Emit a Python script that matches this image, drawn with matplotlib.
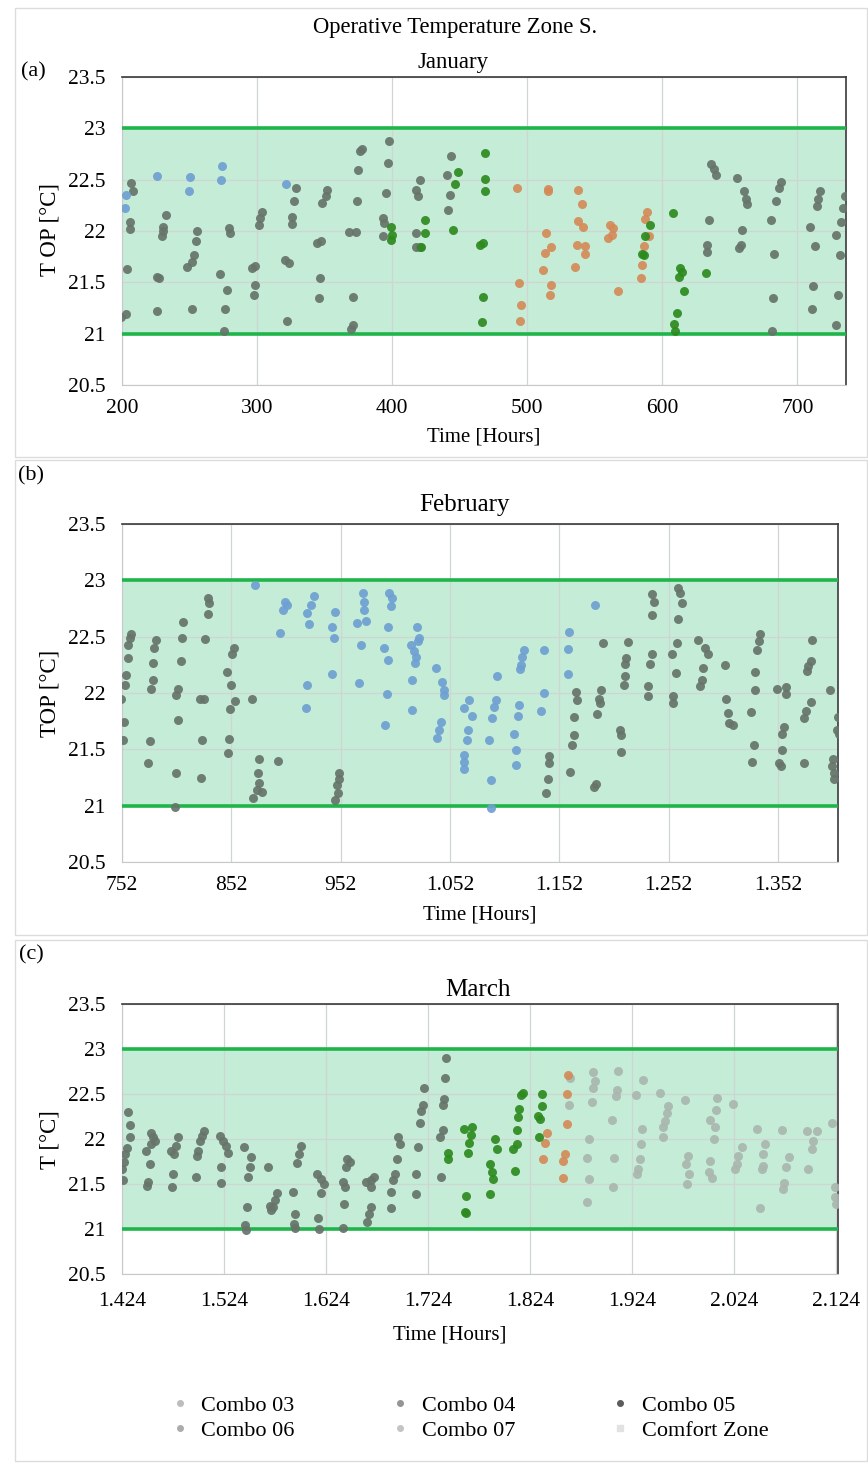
import numpy as np
import matplotlib
matplotlib.use('Agg')
import matplotlib.pyplot as plt
from matplotlib.lines import Line2D
from matplotlib.patches import Rectangle

plt.rcParams['font.family'] = ['Liberation Serif', 'DejaVu Serif']

# colours of the series
c_gray = '#66746a'
c_blue = '#6fa0d2'
c_green = '#2d8a1e'
c_orange = '#d48a58'
c_light = '#a9b7af'

# comfort zone limits
comfort_low = 21
comfort_high = 23

y_ticks = [20.5, 21, 21.5, 22, 22.5, 23, 23.5]
y_labels = ['20.5', '21', '21.5', '22', '22.5', '23', '23.5']

# ---------------- January ----------------
jan_ticks = [200, 300, 400, 500, 600, 700]
jan_labels = ['200', '300', '400', '500', '600', '700']

jan_gray_h = [199.5, 203.2, 204, 205.7, 205.7, 207, 208, 225.6, 227.3, 226, 232.3, 230.5, 229.3, 230,
              247.9, 251.6, 253.4, 254.6, 255.8, 251.6, 272.7, 277.7, 276.4, 275.7, 278.9, 280.1,
              296.3, 298.8, 298.8, 297.5, 301.2, 302.5, 303.7, 321, 323.6, 322.3, 328.5, 327.3, 326, 325.6,
              344.7, 347.1, 346.6, 345.9, 348.4, 350.9, 351.4, 368.2, 373.2, 370.7, 370.7, 369.5,
              373.7, 374.4, 376.2, 377.7, 393, 394.2, 393, 395.5, 396.7, 397.5, 417.9, 419.1, 420.8,
              417.9, 420.3, 417.9, 441.4, 442.7, 440.7, 443.9,
              635.7, 638.2, 639.5, 634.5, 633.3, 632.8, 655.6, 660.5, 663, 661.8, 659.2, 658, 656.8,
              684.1, 686.6, 687.8, 680.4, 682.9, 681.6, 680.9, 709.2, 712.9, 716.6, 714.2, 715.4,
              711.7, 710.5, 728.8, 731.3, 730, 728.8, 732.5, 733.8, 735]
jan_gray_t = [21.16, 21.19, 21.63, 22.09, 22.02, 22.47, 22.39, 21.55, 21.54, 21.22, 22.16, 22.04, 21.95, 22.0,
              21.65, 21.70, 21.77, 21.90, 22.00, 21.24, 21.58, 21.43, 21.24, 21.03, 22.03, 21.98,
              21.64, 21.66, 21.47, 21.38, 22.06, 22.13, 22.19, 21.72, 21.69, 21.12, 22.42, 22.29, 22.14, 22.07,
              21.88, 21.90, 21.54, 21.35, 22.27, 22.34, 22.40, 21.99, 21.99, 21.36, 21.08, 21.05,
              22.29, 22.59, 22.78, 22.80, 22.13, 22.08, 21.95, 22.37, 22.66, 22.88, 22.40, 22.34, 22.50,
              21.98, 21.84, 21.84, 22.20, 22.35, 22.55, 22.73,
              22.65, 22.60, 22.55, 22.11, 21.86, 21.80, 22.52, 22.39, 22.26, 22.31, 22.01, 21.86, 21.83,
              22.29, 22.42, 22.48, 22.11, 21.78, 21.35, 21.03, 22.04, 21.85, 22.39, 22.24, 22.31,
              21.46, 21.24, 21.96, 21.77, 21.38, 21.08, 22.09, 22.22, 22.34]

jan_blue_h = [225.6, 250.4, 249.6, 273.9, 273.4, 203.2, 202, 321.6]
jan_blue_t = [22.54, 22.53, 22.39, 22.63, 22.50, 22.35, 22.22, 22.46]

jan_orange_h = [492.3, 493.8, 495.5, 494.3, 515.4, 515.4, 514.1, 517.9, 512.9, 511.7, 517.9, 516.9,
                537.7, 540.2, 537.7, 541.4, 536.5, 542.7, 542.7, 535.7, 561.3, 563.8, 560, 562.5, 567.5,
                588.6, 587.3, 589.8, 586.1, 584.9, 584.1]
jan_orange_t = [22.42, 21.49, 21.28, 21.12, 22.41, 22.39, 21.98, 21.84, 21.79, 21.62, 21.47, 21.38,
                22.40, 22.26, 22.10, 22.04, 21.86, 21.85, 21.78, 21.65, 22.06, 22.03, 21.93, 21.96, 21.42,
                22.19, 22.12, 21.95, 21.85, 21.67, 21.54]

jan_green_h = [399.3, 400, 399.3, 424, 424, 421.6, 445.2, 448.9, 446.4, 465, 467.5, 467, 466.3,
               468.7, 468.7, 468.7, 607.9, 613.4, 612.2, 614.6, 615.9, 610.9, 608.4, 609.7, 632,
               591, 584.9, 586.1, 587.3]
jan_green_t = [22.04, 21.96, 21.91, 22.11, 21.98, 21.84, 22.01, 22.57, 22.46, 21.86, 21.88, 21.36, 21.11,
               22.76, 22.51, 22.39, 22.18, 21.64, 21.55, 21.60, 21.42, 21.20, 21.09, 21.03, 21.59,
               22.06, 21.78, 21.77, 21.95]

# ---------------- February ----------------
feb_ticks = [752, 852, 952, 1052, 1152, 1252, 1352]
feb_labels = ['752', '852', '952', '1.052', '1.152', '1.252', '1.352']

feb_gray_h = [751.4, 754, 753, 755, 756, 757, 757.5, 759, 760, 775.9, 777.4, 780.4, 778.9, 780.4, 781.3, 783.5,
              800.3, 801.8, 802.8, 801.8, 803.4, 806.1, 807.3, 808, 824.2, 825.4, 823.3, 827.2, 827.8,
              830.3, 831.5, 830.3, 848.6, 849.8, 850.8, 855.4, 851.7, 847.7, 852.3, 854.8, 871.3,
              872.2, 875.2, 879.8, 877.4, 876.1, 877.4, 895.1, 947.1, 949.6, 948.6, 950.2, 950.8,
              1142.8, 1142.8, 1141.3, 1139.7, 1162.1, 1167.3, 1168.3, 1165.8, 1165.2, 1163.3, 1183.6,
              1185.7, 1191.9, 1189.7, 1187.9, 1188.8, 1186.7, 1207.2, 1208.7, 1208.1, 1214.9, 1213.3,
              1212.4, 1211.8, 1211.2, 1237, 1238.9, 1237, 1236.4, 1234.8, 1233.3, 1232.7, 1260.9,
              1262.4, 1264, 1260.9, 1259.4, 1255.4, 1258.4, 1256.3, 1256.3, 1279.3, 1285.4, 1287.9,
              1283.9, 1282.4, 1280.9, 1303.8, 1304.4, 1306.3, 1307.5, 1310.6, 1336, 1334.5, 1332.9,
              1331.4, 1330.8, 1327.8, 1329.9, 1328.4, 1351.4, 1359.1, 1359.7, 1357.5, 1356, 1355.4,
              1353, 1354.6, 1375.9, 1382, 1377.5, 1375.9, 1383.6, 1382, 1379.9, 1379, 1399.5, 1406.6,
              1405.7, 1407.5, 1402, 1401.4, 1403.5, 1403.5]
feb_gray_t = [21.95, 21.74, 21.58, 22.07, 22.16, 22.31, 22.43, 22.49, 22.52, 21.38, 21.57, 22.12, 22.04, 22.27, 22.40, 22.47,
              20.99, 21.29, 21.76, 21.98, 22.04, 22.28, 22.49, 22.63, 21.25, 21.58, 21.95, 21.95, 22.48,
              22.70, 22.80, 22.84, 21.47, 21.59, 21.86, 21.93, 22.07, 22.19, 22.35, 22.40, 21.95,
              21.07, 21.14, 21.12, 21.20, 21.29, 21.41, 21.40, 21.05, 21.11, 21.18, 21.24, 21.29,
              21.44, 21.38, 21.24, 21.11, 21.30, 22.01, 21.94, 21.79, 21.63, 21.54, 21.17,
              21.19, 22.44, 22.03, 21.95, 21.91, 21.81, 21.67, 21.63, 21.48, 22.45, 22.31,
              22.26, 22.15, 22.07, 22.88, 22.81, 22.69, 22.35, 22.26, 22.06, 21.97, 22.93,
              22.89, 22.80, 22.66, 22.44, 22.35, 22.18, 21.97, 21.91, 22.47, 22.40, 22.35,
              22.22, 22.12, 22.06, 22.25, 21.95, 21.82, 21.73, 21.72, 22.52, 22.46, 22.38,
              22.19, 22.03, 21.83, 21.54, 21.39, 22.04, 22.05, 21.99, 21.70, 21.64, 21.49,
              21.38, 21.35, 21.38, 21.92, 21.84, 21.78, 22.47, 22.28, 22.24, 22.20, 22.03, 21.79,
              21.67, 21.64, 21.41, 21.35, 21.29, 21.24]

feb_blue_h = [873.7, 896.6, 899.7, 901.2, 902.8, 921.1, 922.6, 925, 927.2, 921.1, 920.2,
              944, 945.5, 946.5, 944, 967, 975.2, 971, 969.1, 972.2, 973.2, 973.2,
              996.6, 998.5, 997.6, 995.5, 991.4, 995.4, 994.5, 992.4,
              1022, 1023.6, 1023, 1016, 1019, 1020.5, 1019.6, 1017.4, 1016.8,
              1039.5, 1045, 1046.5, 1046.5, 1043.4, 1041.9, 1040.4,
              1069.4, 1064.8, 1071.9, 1068.8, 1067.9, 1064.8, 1064.8, 1064.8,
              1095.3, 1093.7, 1092.2, 1090.7, 1087.6, 1089.1, 1089.1,
              1119.8, 1118.3, 1116.7, 1116.1, 1115.2, 1114.3, 1110.6, 1112.1, 1112.1,
              1138.2, 1137.6, 1135.7, 1161.2, 1160.3, 1160.3, 1184.2]
feb_blue_t = [22.96, 22.53, 22.74, 22.81, 22.78, 22.71, 22.61, 22.78, 22.86, 22.07, 21.87,
              22.59, 22.49, 22.72, 22.17, 22.62, 22.64, 22.43, 22.09, 22.89, 22.81, 22.74,
              22.89, 22.84, 22.77, 22.59, 22.40, 22.29, 21.99, 21.72,
              22.59, 22.49, 22.46, 22.43, 22.37, 22.32, 22.27, 22.12, 21.85,
              22.22, 22.10, 22.03, 21.98, 21.74, 21.67, 21.60,
              21.94, 21.87, 21.80, 21.67, 21.58, 21.45, 21.39, 21.33,
              22.15, 21.94, 21.88, 21.78, 21.58, 21.23, 20.98,
              22.38, 22.32, 22.25, 22.21, 21.89, 21.80, 21.64, 21.49, 21.36,
              22.38, 22.00, 21.84, 22.54, 22.39, 22.17, 22.78]

# ---------------- March ----------------
mar_ticks = [1424, 1524, 1624, 1724, 1824, 1924, 2024, 2124]
mar_labels = ['1.424', '1.524', '1.624', '1.724', '1.824', '1.924', '2.024', '2.124']

mar_gray_h = [1425, 1424, 1426, 1427.3, 1429.2, 1431.5, 1431.5, 1429.9,
              1448.8, 1449.5, 1451.1, 1447.9, 1452.1, 1454.4, 1452.8, 1456,
              1473, 1474, 1472.4, 1475, 1477.3, 1478.9,
              1496.9, 1497.9, 1498.5, 1500.1, 1502.4, 1504.4,
              1520.7, 1521.4, 1519.8, 1523, 1526.3, 1527.9,
              1543.6, 1550.8, 1549.2, 1547.5, 1546.9, 1545, 1545.9, 1567.1,
              1568.8, 1570.4, 1573.7, 1576.3, 1572,
              1591.6, 1593.2, 1592.6, 1593.2, 1595.9, 1597.2, 1599.2,
              1615.5, 1619.4, 1622, 1619.4, 1616.1, 1616.8,
              1640.7, 1642.3, 1641.7, 1640.7, 1644, 1647.2, 1644.9,
              1663.5, 1668.4, 1671, 1667.8, 1667.8, 1665.8, 1664.5,
              1687.4, 1687.4, 1689.7, 1691.3, 1694, 1696.1, 1694.6,
              1712.6, 1712.6, 1714.2, 1715.8, 1717.5, 1719.1, 1720.1,
              1737.1, 1735.5, 1738.7, 1738.7, 1739.7, 1741, 1742]
mar_gray_t = [21.55, 21.67, 21.74, 21.83, 21.90, 22.02, 22.16, 22.30,
              21.48, 21.52, 21.72, 21.87, 21.94, 22.02, 22.07, 21.98,
              21.47, 21.61, 21.87, 21.83, 21.92, 22.02,
              21.58, 21.81, 21.87, 21.98, 22.03, 22.09,
              21.51, 21.69, 22.03, 21.98, 21.92, 21.85,
              21.91, 21.80, 21.69, 21.58, 21.25, 21.04, 20.99, 21.69,
              21.26, 21.21, 21.32, 21.40, 21.24,
              21.41, 21.17, 21.06, 21.01, 21.73, 21.83, 21.92,
              21.61, 21.56, 21.50, 21.40, 21.12, 21.00,
              21.52, 21.47, 21.28, 21.01, 21.69, 21.74, 21.78,
              21.52, 21.54, 21.58, 21.47, 21.25, 21.17, 21.08,
              21.23, 21.41, 21.54, 21.61, 21.78, 21.94, 22.02,
              21.39, 21.61, 21.91, 22.18, 22.31, 22.38, 22.57,
              21.58, 22.02, 22.10, 22.38, 22.44, 22.68, 22.90]

mar_green_h = [1743.6, 1743.6, 1761.6, 1760.6, 1761.6, 1763.2, 1763.9, 1765.8, 1767.1, 1759.3,
               1789.7, 1791.3, 1784.8, 1786.5, 1787.4, 1784.8,
               1809.3, 1807.7, 1810.9, 1811.6, 1812.6, 1813.5, 1814.8, 1816.8,
               1835.4, 1835.4, 1832.2, 1833.8, 1833.2]
mar_green_t = [21.78, 21.85, 21.37, 21.19, 21.18, 21.85, 21.96, 22.05, 22.13, 22.11,
               22.00, 21.89, 21.72, 21.63, 21.56, 21.39,
               21.65, 21.89, 21.94, 22.10, 22.24, 22.33, 22.49, 22.51,
               22.50, 22.37, 22.26, 22.22, 22.02]

mar_orange_h = [1840.3, 1838.7, 1837.1, 1861.6, 1860.6, 1860.6, 1858.3, 1856.7, 1856.7]
mar_orange_t = [22.07, 21.96, 21.78, 22.71, 22.50, 22.17, 21.83, 21.76, 21.57]

mar_light_h = [1863.2, 1862.6, 1886.1, 1887.7, 1886.1, 1884.5, 1882.2, 1880.2, 1882.2, 1880.2,
               1910.6, 1909, 1908.3, 1904.1, 1906.4, 1905.1, 1927.9, 1935.1,
               1933.5, 1932.5, 1931.8, 1930.2, 1929.2,
               1951.5, 1959.6, 1958, 1956.4, 1954.7, 1954.1,
               1975.9, 1979.2, 1976.9, 1980.1, 1978.2,
               2007.7, 2006.7, 2000.5, 2005.7, 2004.7, 2000.5, 1999.8, 2002.1, 2023.3,
               2031.5, 2028.2, 2026.6, 2025, 2046.9, 2054.4, 2052.8, 2052.1, 2051.1, 2049.5,
               2070.7, 2078.2, 2075, 2073, 2072.4,
               2096.9, 2100.1, 2101.8, 2095.3, 2105.1, 2119.8, 2123, 2123, 2124]
mar_light_t = [22.68, 22.38, 22.75, 22.64, 22.57, 22.41, 22.00, 21.79, 21.56, 21.30,
               22.76, 22.55, 22.48, 22.21, 21.79, 21.47, 22.49, 22.66,
               22.11, 21.95, 21.78, 21.67, 21.61,
               22.51, 22.37, 22.29, 22.20, 22.13, 22.02,
               22.43, 21.81, 21.72, 21.61, 21.50,
               22.46, 22.32, 22.21, 22.13, 22.00, 21.76, 21.63, 21.57, 22.39,
               21.91, 21.81, 21.72, 21.67, 22.11, 21.94, 21.83, 21.70, 21.67, 21.23,
               22.10, 21.80, 21.69, 21.51, 21.44,
               21.67, 21.89, 21.98, 22.09, 22.09, 22.18, 21.47, 21.36, 21.28]

fig = plt.figure(figsize=(8.68, 14.7), dpi=100)

# panel frames
for y0, h in [(0.689, 0.3056), (0.364, 0.323), (0.006, 0.3545)]:
    fig.patches.append(Rectangle((0.0173, y0), 0.982, h, transform=fig.transFigure,
                                 fill=False, ec='#dcdcdc', lw=1.0))


def panel(ax, xlim, ticks, labels, series):
    ax.axhspan(comfort_low, comfort_high, color='#c4ecd7', zorder=0.5, lw=0)
    ax.axhline(comfort_low, color='#1fb54a', lw=2.6, zorder=3)
    ax.axhline(comfort_high, color='#1fb54a', lw=2.6, zorder=3)
    for h, t, c in series:
        ax.scatter(h, t, s=42, color=c, alpha=0.92, lw=0, zorder=4)
    ax.set_xlim(xlim)
    ax.set_ylim(20.5, 23.5)
    ax.set_xticks(ticks)
    ax.set_xticklabels(labels)
    ax.set_yticks(y_ticks)
    ax.set_yticklabels(y_labels)
    ax.grid(True, color='#cfd6d2', lw=0.9)
    ax.set_axisbelow('line')
    ax.tick_params(length=0, labelsize=15.5)
    ax.tick_params(axis='y', pad=12)
    ax.tick_params(axis='x', pad=10)
    for s in ['left', 'bottom']:
        ax.spines[s].set_color('#c8c8c8')
    for s in ['top', 'right']:
        ax.spines[s].set_color('#3a3a3a')
        ax.spines[s].set_linewidth(1.2)


ax1 = fig.add_axes([0.1406, 0.7381, 0.8341, 0.2095])
panel(ax1, (200, 736), jan_ticks, jan_labels,
      [(jan_gray_h, jan_gray_t, c_gray), (jan_blue_h, jan_blue_t, c_blue),
       (jan_orange_h, jan_orange_t, c_orange), (jan_green_h, jan_green_t, c_green)])

ax2 = fig.add_axes([0.1406, 0.4136, 0.8249, 0.2299])
panel(ax2, (752, 1407), feb_ticks, feb_labels,
      [(feb_gray_h, feb_gray_t, c_gray), (feb_blue_h, feb_blue_t, c_blue)])

ax3 = fig.add_axes([0.1406, 0.1333, 0.8249, 0.1837])
ax3.tick_params(axis='x', pad=13)
panel(ax3, (1424, 2126), mar_ticks, mar_labels,
      [(mar_gray_h, mar_gray_t, c_gray), (mar_light_h, mar_light_t, c_light),
       (mar_orange_h, mar_orange_t, c_orange), (mar_green_h, mar_green_t, c_green)])
ax3.tick_params(axis='x', pad=13)

# texts
fig.text(0.524, 0.9816, 'Operative Temperature Zone S.', ha='center', va='center', fontsize=16.3)
fig.text(0.522, 0.9578, 'January', ha='center', va='center', fontsize=16.5)
fig.text(0.039, 0.951, '(a)', ha='center', va='center', fontsize=16)
fig.text(0.535, 0.6565, 'February', ha='center', va='center', fontsize=18)
fig.text(0.036, 0.6762, '(b)', ha='center', va='center', fontsize=16)
fig.text(0.551, 0.3265, 'March', ha='center', va='center', fontsize=18)
fig.text(0.036, 0.3503, '(c)', ha='center', va='center', fontsize=16)

fig.text(0.5576, 0.7027, 'Time [Hours]', ha='center', va='center', fontsize=15)
fig.text(0.553, 0.3776, 'Time [Hours]', ha='center', va='center', fontsize=15)
fig.text(0.518, 0.0918, 'Time [Hours]', ha='center', va='center', fontsize=15)

fig.text(0.058, 1 - 230 / 1470, 'T OP [°C]', rotation=90, ha='center', va='center', fontsize=16.5)
fig.text(0.058, 1 - 693 / 1470, 'TOP [°C]', rotation=90, ha='center', va='center', fontsize=16.5)
fig.text(0.058, 1 - 1140 / 1470, 'T [°C]', rotation=90, ha='center', va='center', fontsize=16.5)

# legend (markers shown in grey as in the source)
leg_names = ['Combo 03', 'Combo 06', 'Combo 04', 'Combo 07', 'Combo 05', 'Comfort Zone']
leg_cols = ['#bdbdbd', '#acacac', '#959595', '#c4c4c4', '#5c5c5c', '#e2e2e2']
leg_marks = ['o', 'o', 'o', 'o', 'o', 's']
handles = [Line2D([], [], ls='', marker=m, color=c, markersize=4)
           for m, c in zip(leg_marks, leg_cols)]
fig.legend(handles, leg_names, ncol=3, loc='center', bbox_to_anchor=(0.540, 0.0354),
           frameon=False, fontsize=16, columnspacing=4.25, handletextpad=0.45,
           labelspacing=0.2, handlelength=1.0)

fig.savefig('out.png', dpi=100)
